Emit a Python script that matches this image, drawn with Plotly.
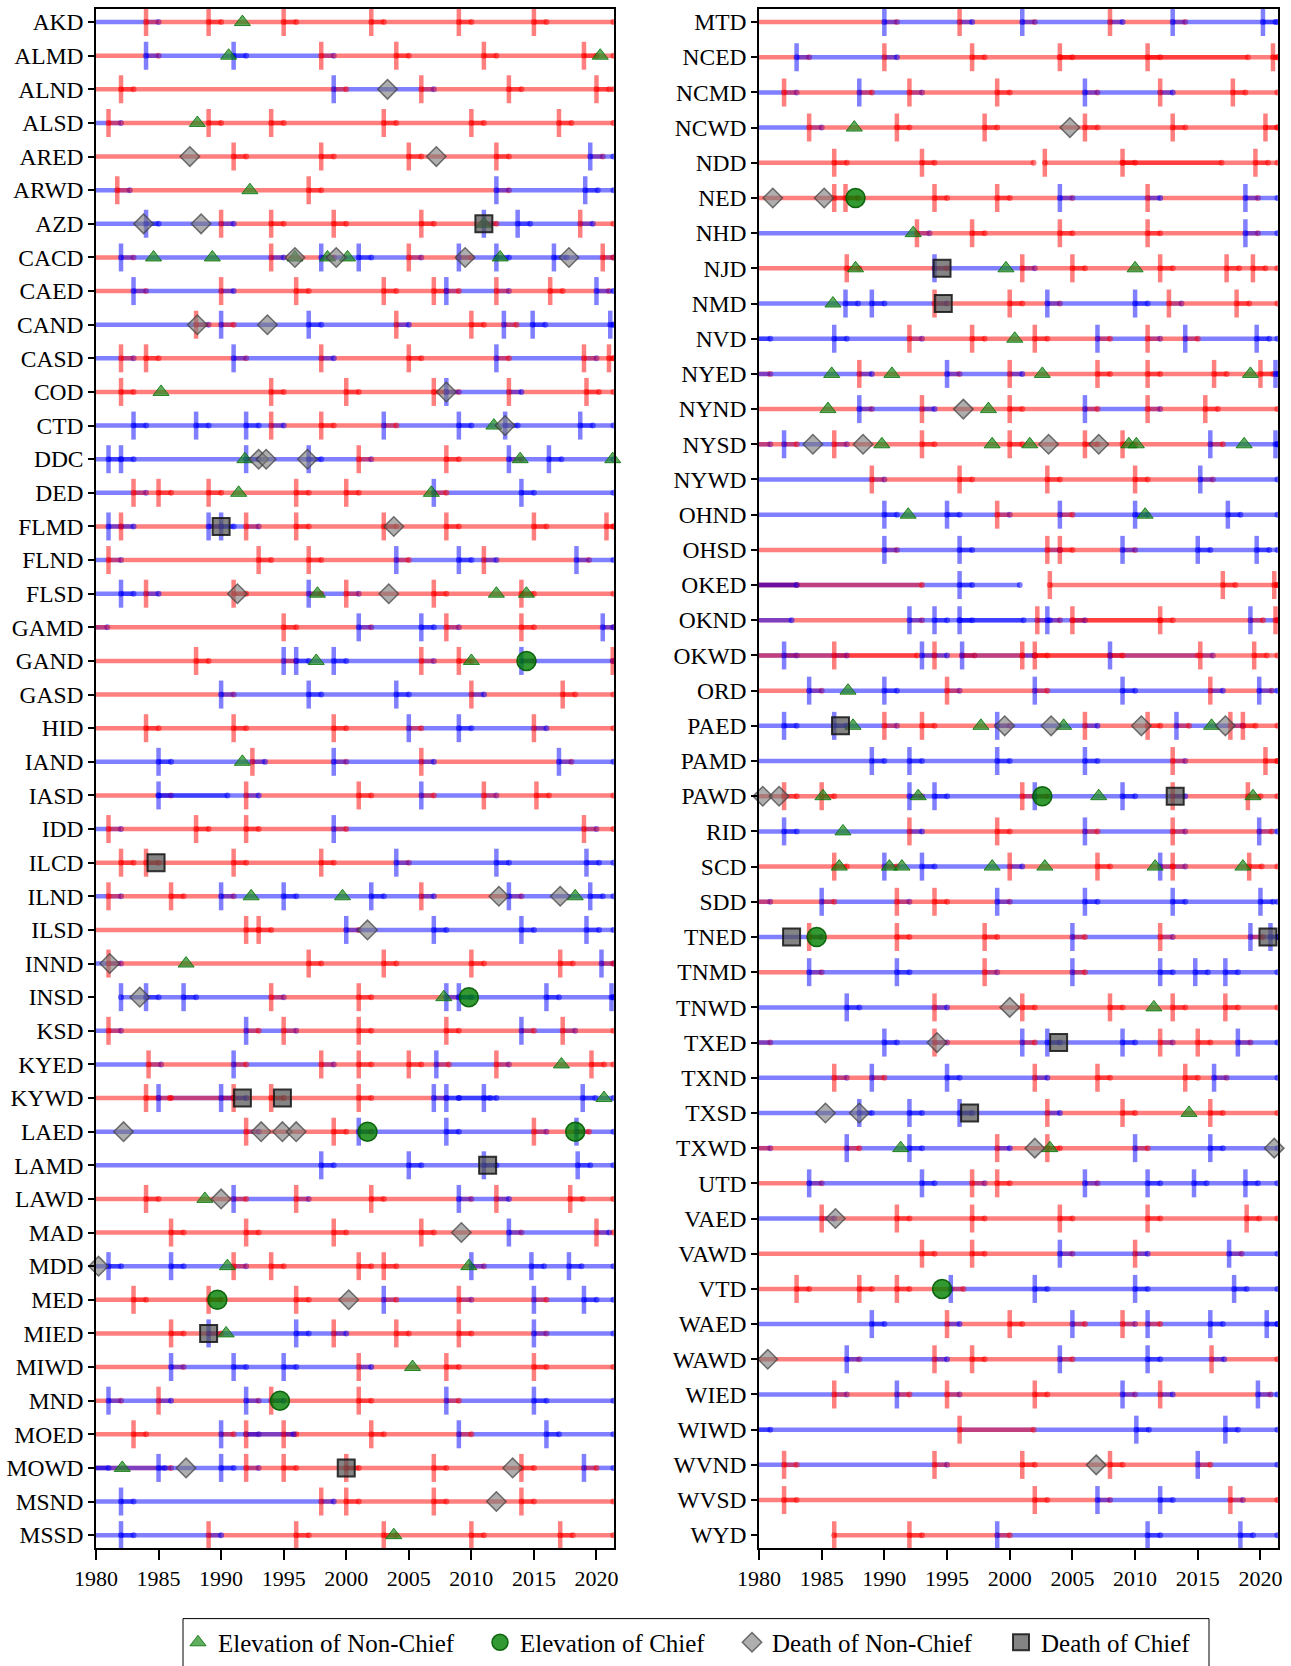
import plotly.graph_objects as go

# ---------------- data ----------------
LEFT_DISTRICTS = ["AKD", "ALMD", "ALND", "ALSD", "ARED", "ARWD", "AZD", "CACD", "CAED", "CAND",
                  "CASD", "COD", "CTD", "DDC", "DED", "FLMD", "FLND", "FLSD", "GAMD", "GAND",
                  "GASD", "HID", "IAND", "IASD", "IDD", "ILCD", "ILND", "ILSD", "INND", "INSD",
                  "KSD", "KYED", "KYWD", "LAED", "LAMD", "LAWD", "MAD", "MDD", "MED", "MIED",
                  "MIWD", "MND", "MOED", "MOWD", "MSND", "MSSD"]

LEFT_STARTS = [
    [1979, 1984, 1989, 1995, 2002, 2009, 2015],                          # AKD
    [1979, 1984, 1991, 1998, 2004, 2011, 2019],                          # ALMD
    [1979, 1982, 1999, 2006, 2013, 2020],                                # ALND
    [1979, 1981, 1989, 1994, 2003, 2010, 2017],                          # ALSD
    [1979, 1991, 1998, 2005, 2012, 2019.5],                              # ARED
    [1979, 1981.7, 1997, 2012, 2019.1],                                  # ARWD
    [1979, 1984, 1990, 1994, 1999, 2006, 2011, 2013.7, 2018.7],          # AZD
    [1979, 1982, 1994, 1998, 2001, 2005, 2009, 2012, 2016.6, 2020.5],    # CACD
    [1979, 1983, 1990, 1996, 2003, 2007, 2008, 2012, 2016.3, 2020],      # CAED
    [1979, 1988, 1990, 1997, 2004, 2010, 2012.6, 2014.9, 2021.1],        # CAND
    [1979, 1982, 1984, 1991, 1998, 2005, 2012, 2019, 2021],              # CASD
    [1979, 1982, 1994, 2000, 2007, 2008, 2013, 2019.2],                  # COD
    [1979, 1983, 1988, 1992, 1994, 1998, 2003, 2009, 2012.7, 2018.7],    # CTD
    [1979, 1981, 1982, 1992, 1997, 2001, 2008, 2013, 2016.2],            # DDC
    [1979, 1983, 1985, 1989, 1996, 2000, 2007, 2014],                    # DED
    [1979, 1981, 1982, 1989, 1990, 1992, 1996, 2003, 2008, 2015, 2020.8],  # FLMD
    [1979, 1981, 1993, 1997, 2004, 2009, 2011, 2018.4],                  # FLND
    [1979, 1982, 1984, 1991, 1997, 2000, 2007, 2014],                    # FLSD
    [1979, 1979.9, 1995, 2001, 2006, 2008, 2014, 2020.5],                # GAMD
    [1979, 1988, 1995, 1996, 1999, 2006, 2009, 2014, 2021.3],            # GAND
    [1979, 1990, 1997, 2004, 2010, 2017.3],                              # GASD
    [1979, 1984, 1991, 1999, 2005, 2009, 2015],                          # HID
    [1979, 1985, 1992.5, 1999, 2006, 2017],                              # IAND
    [1979, 1985, 1992, 2001, 2006, 2011, 2015.2],                        # IASD
    [1979, 1981, 1988, 1992, 1999, 2019],                                # IDD
    [1979, 1982, 1984, 1991, 1998, 2004, 2012, 2019.2],                  # ILCD
    [1979, 1981, 1986, 1990, 1995, 2002, 2006, 2013, 2019.5],            # ILND
    [1979, 1992, 1993, 2000, 2007, 2014, 2019.2],                        # ILSD
    [1979, 1981, 1997, 2003, 2010, 2017.1, 2020.4],                      # INND
    [1982, 1984, 1987, 1994, 2001, 2008, 2009, 2016, 2021.2],            # INSD
    [1979, 1981, 1992, 1995, 2001, 2008, 2014, 2017.3],                  # KSD
    [1979, 1984.2, 1991, 1998, 2001, 2005, 2007.2, 2012, 2019.6],        # KYED
    [1979, 1984, 1985, 1990, 1991, 1994, 2001, 2007, 2008, 2011, 2018.9],  # KYWD
    [1979, 1992, 1999, 2001, 2008, 2015, 2018.4],                        # LAED
    [1979, 1998, 2005, 2011, 2018.5],                                    # LAMD
    [1979, 1984, 1991, 1996, 2002, 2009, 2012, 2017.9],                  # LAWD
    [1979, 1986, 1992, 1999, 2006, 2013, 2020],                          # MAD
    [1979, 1981, 1986, 1991, 1994, 2001, 2003, 2010, 2014.8, 2017.8],    # MDD
    [1979, 1983, 1989, 1996, 2003, 2009, 2015, 2019],                    # MED
    [1979, 1986, 1989, 1996, 1999, 2004, 2009, 2015],                    # MIED
    [1979, 1986, 1991, 1995, 2001, 2008, 2015],                          # MIWD
    [1979, 1981, 1985, 1992, 1994, 2001, 2008, 2015],                    # MND
    [1979, 1983, 1990, 1992, 1995, 2002, 2009, 2016],                    # MOED
    [1979, 1985, 1990, 1992, 1995, 2000, 2007, 2014, 2019],              # MOWD
    [1979, 1982, 1998, 2000, 2007, 2014],                                # MSND
    [1979, 1982, 1989, 1996, 2003, 2010, 2017.1],                        # MSSD
]

LEFT_PARTIES = [
    "BRRRRRR", "RBBRRRR", "RRBRRR", "BRRRRRR", "RRRRRB", "BRRBB", "BBRRRRBBR",
    "RBRBBRBBBR", "RBRRRRBRRB", "BRBBRRBBB", "BRRBRRBRR", "RRRRRBRR", "BBBBRRBBBB",
    "BBBBBRRBB", "BRRRRRBB", "RBRBBRRRRRR", "BRRRBBRB", "BBRRBRRR", "BRRBBRRB",
    "RRBBBRRBR", "RBBBRR", "RRRRBBR", "BBRBRB", "RBRRBRR", "BRRRBR", "RRRRRBBB",
    "BRRBBBRBB", "RRRBBBB", "BRRRRRB", "BBBRRBBBB", "BRBRRRBR", "BRBRRRBRR",
    "RRBBRRRBBBB", "BRRBBRB", "BBBBB", "RRBRRBRR", "RRRRRBR", "BBBRRRRBBB",
    "RRRRBRBB", "RRBBRRRB", "RBBBRRR", "RBRBRRBB", "RRBRRRBB", "RBBRRRRRB",
    "BBRRRR", "BBRRRRR",
]

RIGHT_DISTRICTS = ["MTD", "NCED", "NCMD", "NCWD", "NDD", "NED", "NHD", "NJD", "NMD", "NVD",
                   "NYED", "NYND", "NYSD", "NYWD", "OHND", "OHSD", "OKED", "OKND", "OKWD", "ORD",
                   "PAED", "PAMD", "PAWD", "RID", "SCD", "SDD", "TNED", "TNMD", "TNWD", "TXED",
                   "TXND", "TXSD", "TXWD", "UTD", "VAED", "VAWD", "VTD", "WAED", "WAWD", "WIED",
                   "WIWD", "WVND", "WVSD", "WYD"]

RIGHT_STARTS = [
    [1979, 1990, 1996, 2001, 2008, 2013, 2020.2],                        # MTD
    [1979, 1983, 1990, 1997, 2004, 2011, 2021],                          # NCED
    [1979, 1982, 1988, 1992, 1999, 2006, 2012, 2017.8],                  # NCMD
    [1979, 1984, 1991, 1998, 2006, 2013, 2020.4],                        # NCWD
    [1979, 1986, 1993, 2002.8, 2009, 2019.6],                            # NDD
    [1979, 1986, 1986.9, 1994, 1999, 2004, 2011, 2018.8],                # NED
    [1979, 1992.6, 1997, 2004, 2011, 2018.8],                            # NHD
    [1979, 1987, 1994, 2001, 2005, 2012, 2017.3, 2019.4],                # NJD
    [1979, 1986.9, 1989, 1994, 2000, 2003, 2010, 2012.7, 2018.1],        # NMD
    [1979, 1979.9, 1986, 1992, 1997, 2002, 2007, 2011, 2014, 2019.7],    # NVD
    [1979, 1979.9, 1988, 1995, 2000, 2007, 2011, 2016.3, 2020, 2021.2],  # NYED
    [1979, 1988, 1993, 2000, 2006, 2011, 2015.6],                        # NYND
    [1979, 1979.9, 1982, 1986, 1993, 2000, 2006, 2009, 2016, 2021.2],    # NYSD
    [1979, 1989, 1996, 2003, 2010, 2015.2],                              # NYWD
    [1979, 1990, 1995, 1999, 2004, 2010, 2017.4],                        # OHND
    [1979, 1990, 1996, 2003, 2004, 2009, 2015, 2019.7],                  # OHSD
    [1979, 1996, 2003.2, 2017, 2021.1],                                  # OKED
    [1979, 1992, 1994, 1996, 2002.2, 2003, 2005, 2012, 2019.2, 2021.2],  # OKND
    [1979, 1982, 1986, 1993, 1994, 1996.2, 2001, 2002, 2008, 2015.2, 2019.5],  # OKWD
    [1979, 1984, 1990, 1995, 2002, 2009, 2016, 2019.9],                  # ORD
    [1979, 1982, 1986, 1990, 1993, 1999, 2006, 2011, 2013.3, 2017.6, 2018.6],  # PAED
    [1979, 1989, 1992, 1999, 2006, 2013, 2020.4],                        # PAMD
    [1979, 1982, 1985, 1992, 1994, 2001, 2002, 2009, 2013, 2019],        # PAWD
    [1979, 1982, 1992, 1999, 2006, 2013, 2019.9],                        # RID
    [1979, 1986, 1990, 1993, 2000, 2007, 2012, 2013, 2019.1],            # SCD
    [1979, 1979.9, 1985, 1991, 1994, 1999, 2006, 2013, 2020],            # SDD
    [1979, 1984, 1991, 1998, 2005, 2012, 2019.2, 2020.8],                # TNED
    [1979, 1984, 1991, 1998, 2005, 2012, 2014.8, 2017.2],                # TNMD
    [1979, 1987, 1994, 2001, 2008, 2013, 2017.2],                        # TNWD
    [1979, 1979.9, 1990, 1994, 2001, 2003, 2009, 2012, 2015, 2018.2],    # TXED
    [1979, 1986, 1989, 1995, 2002, 2007, 2014, 2016.3],                  # TXND
    [1979, 1988, 1992, 1996, 2003, 2009, 2016],                          # TXSD
    [1979, 1979.9, 1987, 1992, 1999, 2003, 2010, 2016],                  # TXWD
    [1979, 1984, 1993, 1997, 1999, 2006, 2011, 2014.7, 2018.8],          # UTD
    [1979, 1985, 1991, 1997, 2004, 2011, 2018.9],                        # VAED
    [1979, 1993, 1997, 2004, 2010, 2017.5],                              # VAWD
    [1979, 1983, 1988, 1991, 1995.3, 2002, 2010, 2017.9],                # VTD
    [1979, 1989, 1995, 2000, 2005, 2009, 2011, 2016, 2020.5],            # WAED
    [1979, 1987, 1994, 1997, 2004, 2011, 2016.1],                        # WAWD
    [1979, 1986, 1991, 1995, 2002, 2009, 2012, 2019.8],                  # WIED
    [1979, 1979.9, 2010.1, 2017.2],                                      # WIWD
    [1979, 1994, 2001, 2008, 2015],                                      # WVND
    [1979, 1982, 2002, 2007, 2012, 2017.6],                              # WVSD
    [1986, 1992, 1999, 2011, 2018.4],                                    # WYD
]

RIGHT_PARTIES = [
    "RBRBRBB", "RBRRRRR", "BRBRRBRR", "BRRRRRR", "RRRRRR", "RRRRRBRB", "BRRRRB",
    "RRBRRRRR", "BBBRRBBRR", "BBBRRRBRBB", "RBRBRRRRRB", "RBRRBRR", "BRBRRRRRBB",
    "BRRRRB", "BBBRBBB", "RBBRRBBB", "BBRRR", "RBBBRBRRBR", "BBRBRBRRBRR",
    "RBBRBBRB", "BBBRRBRRBRR", "BBBBBRR", "RRRBBRBBRR", "BBRRBRB", "RRBBRRBRR",
    "BRBRRBBBB", "BRRRBRBB", "RBBRBBBB", "BBRRRRR", "RBBRBBBRRB", "BRBBRRRB",
    "BBBBRRR", "BRBBRRBB", "RBBRRBBBB", "BRRRRRR", "RRRBRB", "RRRRBBBB",
    "BBRRBRBBB", "RBRRBBR", "BRBRRBRB", "BBBB", "BRRRB", "RRRBBR", "RRBBB",
]

# tenures whose end is not "next start + 1 year"
END_OVERRIDES = [("NDD", 1993, 2001.9), ("OKED", 1996, 2000.8)]

# additional, overlapping tenures: district, start, end, party, has start tick
EXTRA_TENURES = [
    ("IASD", 1985, 1990.5, "B", False),
    ("KYWD", 1985.9, 1991, "R", False),
    ("KYWD", 2009, 2011.5, "B", False),
    ("MOED", 1992, 1995.8, "B", False),
    ("MOWD", 1979, 1985.5, "B", False),
    ("MOWD", 1979, 1981, "B", False),
    ("NCED", 2004, 2019, "R", False),
    ("NDD", 2009, 2016.9, "R", False),
    ("OKED", 1979, 1993, "R", False),
    ("OKED", 1979, 1983, "R", False),
    ("OKED", 1979, 1983, "B", False),
    ("OKND", 1979, 1982.6, "B", False),
    ("OKND", 1996, 2001.1, "B", False),
    ("OKND", 2005, 2012, "R", False),
    ("OKWD", 1979, 1992.6, "R", False),
    ("OKWD", 1996.2, 2001, "R", False),
    ("OKWD", 2002, 2008, "R", False),
    ("OKWD", 2008, 2015, "R", False),
    ("WIWD", 1996, 2001.9, "R", True),
    ("WVND", 1982, 1983, "R", True),
]

ELEV_NONCHIEF = [
    ("AKD", 1991.7), ("ALMD", 1990.6), ("ALMD", 2020.3), ("ALSD", 1988.1), ("ARWD", 1992.3),
    ("AZD", 2011), ("CACD", 1984.6), ("CACD", 1989.3), ("CACD", 1995.9), ("CACD", 1998.5),
    ("CACD", 2000.1), ("CACD", 2012.3), ("COD", 1985.2), ("CTD", 2011.8), ("DDC", 1991.9),
    ("DDC", 2013.9), ("DDC", 2021.3), ("DED", 1991.4), ("DED", 2006.8), ("FLSD", 1997.7),
    ("FLSD", 2012), ("FLSD", 2014.4), ("GAND", 1997.6), ("GAND", 2010), ("IAND", 1991.7),
    ("ILND", 1992.4), ("ILND", 1999.7), ("ILND", 2018.3), ("INND", 1987.2), ("INSD", 2007.8),
    ("KYED", 2017.2), ("KYWD", 2020.6), ("LAWD", 1988.7), ("MDD", 1990.5), ("MDD", 2009.8),
    ("MIED", 1990.4), ("MIWD", 2005.3), ("MOWD", 1982.1), ("MSSD", 2003.8),
    ("NCWD", 1987.6), ("NHD", 1992.3), ("NJD", 1987.7), ("NJD", 1999.7), ("NJD", 2010),
    ("NMD", 1985.9), ("NVD", 2000.4), ("NYED", 1985.8), ("NYED", 1990.6), ("NYED", 2002.6),
    ("NYED", 2019.2), ("NYND", 1985.5), ("NYND", 1998.3), ("NYSD", 1989.8), ("NYSD", 1998.6),
    ("NYSD", 2001.6), ("NYSD", 2009.5), ("NYSD", 2010.1), ("NYSD", 2018.7), ("OHND", 1991.9),
    ("OHND", 2010.8), ("ORD", 1987.1), ("PAED", 1987.5), ("PAED", 1997.7), ("PAED", 2004.3),
    ("PAED", 2016.1), ("PAWD", 1985.1), ("PAWD", 1992.7), ("PAWD", 2007.1), ("PAWD", 2019.4),
    ("RID", 1986.7), ("SCD", 1986.4), ("SCD", 1990.4), ("SCD", 1991.4), ("SCD", 1998.6),
    ("SCD", 2002.8), ("SCD", 2011.6), ("SCD", 2018.6), ("TNWD", 2011.5), ("TXSD", 2014.3),
    ("TXWD", 1991.3), ("TXWD", 2003.2),
]

ELEV_CHIEF = [
    ("GAND", 2014.4), ("INSD", 2009.8), ("LAED", 2001.7), ("LAED", 2018.3), ("MED", 1989.7),
    ("MND", 1994.7), ("NED", 1987.7), ("PAWD", 2002.6), ("TNED", 1984.6), ("VTD", 1994.6),
]

DEATH_NONCHIEF = [
    ("ALND", 2003.3), ("ARED", 1987.5), ("ARED", 2007.2), ("AZD", 1983.8), ("AZD", 1988.4),
    ("CACD", 1995.9), ("CACD", 1999.2), ("CACD", 2009.5), ("CACD", 2017.8), ("CAND", 1988.1),
    ("CAND", 1993.7), ("COD", 2008), ("CTD", 2012.7), ("DDC", 1993), ("DDC", 1993.6),
    ("DDC", 1996.9), ("FLMD", 2003.8), ("FLSD", 1991.3), ("FLSD", 2003.4), ("ILND", 2012.2),
    ("ILND", 2017.1), ("ILSD", 2001.7), ("INND", 1981.1), ("INSD", 1983.5), ("LAED", 1982.2),
    ("LAED", 1993.2), ("LAED", 1994.9), ("LAED", 1996), ("LAWD", 1990), ("MAD", 2009.2),
    ("MDD", 1980.2), ("MED", 2000.2), ("MOWD", 1987.2), ("MOWD", 2013.3), ("MSND", 2012),
    ("NCWD", 2004.8), ("NED", 1981.1), ("NED", 1985.2), ("NYND", 1996.3), ("NYSD", 1984.3),
    ("NYSD", 1988.3), ("NYSD", 2003.1), ("NYSD", 2007.1), ("PAED", 1999.6), ("PAED", 2003.3),
    ("PAED", 2010.5), ("PAED", 2017.2), ("PAWD", 1980.3), ("PAWD", 1981.6), ("TNWD", 2000),
    ("TXED", 1994.2), ("TXSD", 1985.3), ("TXSD", 1988), ("TXWD", 2002), ("TXWD", 2021.1),
    ("VAED", 1986.1), ("WAWD", 1980.7), ("WVND", 2006.9),
]

DEATH_CHIEF = [
    ("AZD", 2011), ("FLMD", 1990), ("ILCD", 1984.8), ("KYWD", 1991.7), ("KYWD", 1994.9),
    ("LAMD", 2011.3), ("MIED", 1989), ("MOWD", 2000), ("NJD", 1994.6), ("NMD", 1994.7),
    ("PAED", 1986.5), ("PAWD", 2013.2), ("TNED", 1982.6), ("TNED", 2020.6), ("TXED", 2003.9),
    ("TXSD", 1996.8),
]

X_TICKS = [1980, 1985, 1990, 1995, 2000, 2005, 2010, 2015, 2020]

# ---------------- styling ----------------
W, H = 1291, 1666
X_MIN, X_MAX = 1980, 2021.4
X_LAST = 2021.35
COL = {"R": "rgba(255,0,0,0.5)", "B": "rgba(0,0,255,0.5)"}
FONT = "Liberation Serif, Times New Roman, serif"

fig = go.Figure()

panels = [
    (LEFT_DISTRICTS, LEFT_STARTS, LEFT_PARTIES, "x", "y"),
    (RIGHT_DISTRICTS, RIGHT_STARTS, RIGHT_PARTIES, "x2", "y2"),
]

overrides = {(d, s): e for d, s, e in END_OVERRIDES}


def seg_trace(xs, ys, col, xa, ya):
    return go.Scatter(x=xs, y=ys, mode="lines+markers", xaxis=xa, yaxis=ya,
                      line=dict(color=col, width=4.5), marker=dict(size=6, color=col),
                      connectgaps=False, showlegend=False, hoverinfo="skip")


def tick_trace(xs, ys, col, xa, ya):
    return go.Scatter(x=xs, y=ys, mode="markers", xaxis=xa, yaxis=ya,
                      marker=dict(symbol="line-ns", size=20, line=dict(width=4.5, color=col)),
                      showlegend=False, hoverinfo="skip")


for districts, starts, parties, xa, ya in panels:
    assert len(districts) == len(starts) == len(parties)
    layers = {(l, c): ([], []) for l in (0, 1) for c in "RB"}
    ticks = {c: ([], []) for c in "RB"}
    for i, d in enumerate(districts):
        s, p = starts[i], parties[i]
        assert len(s) == len(p), d
        for j in range(len(s)):
            st = s[j]
            en = s[j + 1] + 1 if j + 1 < len(s) else X_LAST
            en = overrides.get((d, st), min(en, X_LAST))
            xs, ys = layers[(j % 2, p[j])]
            xs += [st, en, None]
            ys += [i, i, None]
            ticks[p[j]][0].append(st)
            ticks[p[j]][1].append(i)
    for (l, c), (xs, ys) in layers.items():
        if xs:
            fig.add_trace(seg_trace(xs, ys, COL[c], xa, ya))
    for d, st, en, c, has_tick in EXTRA_TENURES:
        if d in districts:
            i = districts.index(d)
            fig.add_trace(seg_trace([st, en], [i, i], COL[c], xa, ya))
            if has_tick:
                ticks[c][0].append(st)
                ticks[c][1].append(i)
    for c, (xs, ys) in ticks.items():
        fig.add_trace(tick_trace(xs, ys, COL[c], xa, ya))

EVENTS = [
    ("Elevation of Non-Chief", ELEV_NONCHIEF, dict(symbol="triangle-up", size=14,
                                                   color="rgba(30,140,30,0.7)",
                                                   line=dict(color="rgba(0,110,0,0.8)", width=1))),
    ("Elevation of Chief", ELEV_CHIEF, dict(symbol="circle", size=19,
                                            color="rgba(0,128,0,0.8)",
                                            line=dict(color="rgba(0,90,0,0.9)", width=1.5))),
    ("Death of Non-Chief", DEATH_NONCHIEF, dict(symbol="diamond", size=15,
                                                color="rgba(120,120,120,0.6)",
                                                line=dict(color="rgba(60,60,60,0.7)", width=1.5))),
    ("Death of Chief", DEATH_CHIEF, dict(symbol="square", size=17,
                                         color="rgba(80,80,80,0.7)",
                                         line=dict(color="rgba(20,20,20,0.85)", width=2))),
]
LEGEND_IDS = ["legend", "legend2", "legend3", "legend4"]
LEGEND_SYMBOL_X = [198, 500, 752, 1021]   # pixel centre of each legend symbol

for k, (districts, _, _, xa, ya) in enumerate(panels):
    for n, (name, events, mk) in enumerate(EVENTS):
        xs = [yr for d, yr in events if d in districts]
        ys = [districts.index(d) for d, yr in events if d in districts]
        fig.add_trace(go.Scatter(x=xs, y=ys, mode="markers", xaxis=xa, yaxis=ya, name=name,
                                 marker=mk, legendgroup=name, showlegend=(k == 0),
                                 legend=LEGEND_IDS[n], cliponaxis=False, hoverinfo="skip"))

axis_common = dict(showline=True, linecolor="black", linewidth=1.5, mirror=True,
                   showgrid=False, zeroline=False, ticks="outside", tickcolor="black",
                   tickwidth=1.5, automargin=False)
xfont = dict(family=FONT, size=22, color="black")
yfont = dict(family=FONT, size=23.5, color="black")

Y_DOM = [(H - 1552) / H, (H - 9) / H]
layout = dict(
    width=W, height=H,
    margin=dict(l=0, r=0, t=0, b=0),
    paper_bgcolor="white", plot_bgcolor="white",
    font=dict(family=FONT, color="black"),
    xaxis=dict(domain=[96 / W, 614 / W], range=[X_MIN, X_MAX], tickvals=X_TICKS,
               ticklen=10, anchor="y", tickfont=xfont, **axis_common),
    yaxis=dict(domain=Y_DOM, range=[len(LEFT_DISTRICTS) - 1 + 0.39, -0.39],
               tickvals=list(range(len(LEFT_DISTRICTS))), ticktext=LEFT_DISTRICTS,
               ticklen=6, anchor="x", tickfont=yfont, **axis_common),
    xaxis2=dict(domain=[759 / W, 1278 / W], range=[X_MIN, X_MAX], tickvals=X_TICKS,
                ticklen=10, anchor="y2", tickfont=xfont, **axis_common),
    yaxis2=dict(domain=Y_DOM, range=[len(RIGHT_DISTRICTS) - 1 + 0.37, -0.37],
                tickvals=list(range(len(RIGHT_DISTRICTS))), ticktext=RIGHT_DISTRICTS,
                ticklen=6, anchor="x2", tickfont=yfont, **axis_common),
    shapes=[dict(type="rect", xref="paper", yref="paper",
                 x0=183 / W, x1=1209 / W, y0=-0.02, y1=(H - 1622.5) / H,
                 line=dict(color="black", width=1), fillcolor="rgba(0,0,0,0)", layer="above")],
)
for lid, sx in zip(LEGEND_IDS, LEGEND_SYMBOL_X):
    layout[lid] = dict(x=(sx - 20) / W, xanchor="left", y=(H - 1646.5) / H, yanchor="middle",
                       orientation="h", borderwidth=0, bgcolor="rgba(0,0,0,0)",
                       font=dict(family=FONT, size=25, color="black"))
fig.update_layout(**layout)

fig.write_html("out.html")
